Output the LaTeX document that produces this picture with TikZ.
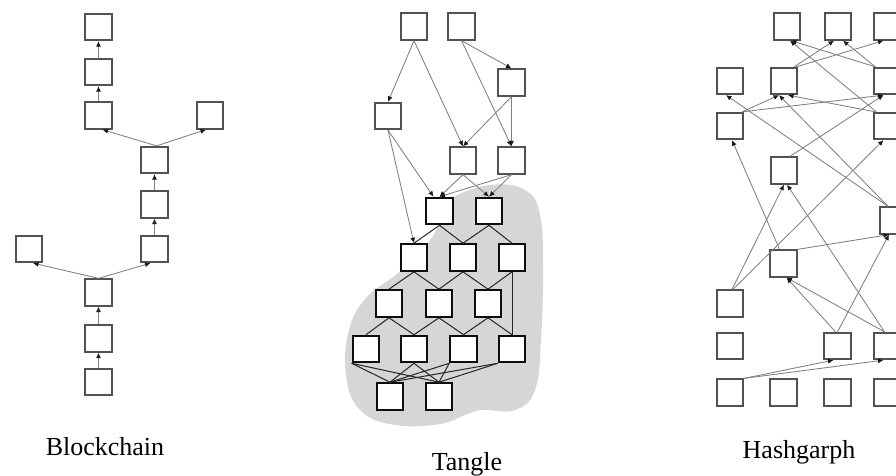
\documentclass[tikz,border=0pt]{standalone}
\usepackage{fontspec}
\setmainfont{Liberation Serif}
\usetikzlibrary{arrows.meta}
\begin{document}
\begin{tikzpicture}[x=1pt,y=-1pt,
  blk/.style={draw=black!68, line width=1.8pt, fill=white, minimum size=26.5pt, inner sep=0pt},
  blkd/.style={blk, draw=black!95, line width=2.1pt},
  lnk/.style={draw=black!50, line width=0.85pt, -{Latex[length=5.5pt,width=5pt,color=black!90]}},
  dlnk/.style={draw=black!85, line width=1pt},
  lbl/.style={anchor=base, font=\fontsize{26}{30}\selectfont, inner sep=0pt}
]
\path[use as bounding box] (0,0) rectangle (896,476);
\fill[white] (0,0) rectangle (896,476);
\clip (0,0) rectangle (896,476);

% ---------------- Blockchain ----------------
\node[blk] (B1) at (98.5,27) {};
\node[blk] (B2) at (98.5,72) {};
\node[blk] (B3) at (98.5,115.5) {};
\node[blk] (B4) at (210,115.5) {};
\node[blk] (B5) at (154.5,160) {};
\node[blk] (B6) at (154.5,204.5) {};
\node[blk] (B7) at (154.5,249) {};
\node[blk] (B8) at (29,249) {};
\node[blk] (B9) at (98.5,292.5) {};
\node[blk] (B10) at (98.5,338.5) {};
\node[blk] (B11) at (98.5,382) {};
\draw[lnk] (B2) -- (B1);
\draw[lnk] (B3) -- (B2);
\draw[lnk] ([xshift=2pt]B5.north) -- ([xshift=4pt]B3.south);
\draw[lnk] ([xshift=2pt]B5.north) -- ([xshift=-4pt]B4.south);
\draw[lnk] (B6) -- (B5);
\draw[lnk] (B7) -- (B6);
\draw[lnk] (B9.north) -- ([xshift=-4pt]B7.south);
\draw[lnk] (B9.north) -- ([xshift=4pt]B8.south);
\draw[lnk] (B10) -- (B9);
\draw[lnk] (B11) -- (B10);
\node[lbl] (LB) at (105,455) {Blockchain};

% ---------------- Tangle ----------------
\fill[black!16] plot[smooth cycle, tension=0.7] coordinates {
  (452,198) (490,185) (525,190) (540,215) (543,270) (541,340) (535,390)
  (515,410) (482,410) (465,415) (440,424) (395,425) (360,410) (346,375)
  (349,330) (366,298) (398,273) (428,243) (445,213)};
\node[blk] (T1) at (414,26.5) {};
\node[blk] (T2) at (461.5,26.5) {};
\node[blk] (T3) at (511.5,82.5) {};
\node[blk] (T4) at (388,116) {};
\node[blk] (T5) at (463,160.5) {};
\node[blk] (T6) at (511.5,160.5) {};
\node[blkd] (T7) at (439.5,211) {};
\node[blkd] (T8) at (489,211) {};
\node[blkd] (T9) at (414,257.5) {};
\node[blkd] (T10) at (463,257.5) {};
\node[blkd] (T11) at (512,257.5) {};
\node[blkd] (T12) at (389,303.5) {};
\node[blkd] (T13) at (439,303.5) {};
\node[blkd] (T14) at (488,303.5) {};
\node[blkd] (T15) at (366,349) {};
\node[blkd] (T16) at (414,349) {};
\node[blkd] (T17) at (463.5,349) {};
\node[blkd] (T18) at (512,349) {};
\node[blkd] (T19) at (390,396.5) {};
\node[blkd] (T20) at (439,396.5) {};
\draw[lnk] (T1.south) -- (T4.north);
\draw[lnk] (T1.south) -- (T5.north);
\draw[lnk] (T2.south) -- (T3.north);
\draw[lnk] (T2.south) -- (T6.north);
\draw[lnk] (T3.south) -- (T5.north);
\draw[lnk] (T3.south) -- (T6.north);
\draw[lnk] (T4.south) -- (T9.north);
\draw[lnk] (T4.south) -- ([xshift=-6pt]T7.north);
\draw[lnk] (T5.south) -- (T7.north);
\draw[lnk] (T5.south) -- (T8.north);
\draw[lnk] (T6.south) -- (T7.north);
\draw[lnk] (T6.south) -- (T8.north);
\draw[dlnk] (T7.south) -- (T9.north);
\draw[dlnk] (T7.south) -- (T10.north);
\draw[dlnk] (T8.south) -- (T10.north);
\draw[dlnk] (T8.south) -- (T11.north);
\draw[dlnk] (T9.south) -- (T12.north);
\draw[dlnk] (T9.south) -- (T13.north);
\draw[dlnk] (T10.south) -- (T13.north);
\draw[dlnk] (T10.south) -- (T14.north);
\draw[dlnk] (T11.south) -- (T14.north);
\draw[dlnk] (T11.south) -- (T18.north);
\draw[dlnk] (T12.south) -- (T15.north);
\draw[dlnk] (T12.south) -- (T16.north);
\draw[dlnk] (T13.south) -- (T16.north);
\draw[dlnk] (T13.south) -- (T17.north);
\draw[dlnk] (T14.south) -- (T17.north);
\draw[dlnk] (T14.south) -- (T18.north);
\draw[dlnk] (T15.south west) -- (T19.north);
\draw[dlnk] (T15.south west) -- (T20.north);
\draw[dlnk] (T16.south) -- (T19.north);
\draw[dlnk] (T16.south) -- (T20.north);
\draw[dlnk] (T17.south west) -- (T19.north);
\draw[dlnk] (T17.south west) -- (T20.north);
\draw[dlnk] (T18.south west) -- (T19.north);
\draw[dlnk] (T18.south west) -- (T20.north);
\node[lbl] (LT) at (467,470) {Tangle};

% ---------------- Hashgraph ----------------
\node[blk] (H1) at (787,26.5) {};
\node[blk] (H2) at (838,26.5) {};
\node[blk] (H3) at (887.5,26.5) {};
\node[blk] (H4) at (730,81) {};
\node[blk] (H5) at (784,81) {};
\node[blk] (H6) at (887.5,81) {};
\node[blk] (H7) at (730,126) {};
\node[blk] (H8) at (887.5,126) {};
\node[blk] (H9) at (784,170.5) {};
\node[blk] (H10) at (893,220.5) {};
\node[blk] (H11) at (783.5,263.5) {};
\node[blk] (H12) at (730,303.5) {};
\node[blk] (H13) at (730,346) {};
\node[blk] (H14) at (837.5,346) {};
\node[blk] (H15) at (887.5,346) {};
\node[blk] (H16) at (730,392.5) {};
\node[blk] (H17) at (783.5,392.5) {};
\node[blk] (H18) at (837.5,392.5) {};
\node[blk] (H19) at (887.5,392.5) {};
\draw[lnk] ([xshift=2pt]H6.north west) -- ([xshift=4pt]H1.south);
\draw[lnk] ([xshift=3pt]H8.north west) -- ([xshift=3pt]H1.south);
\draw[lnk] ([xshift=-4pt]H5.north east) -- ([xshift=-4pt]H2.south);
\draw[lnk] ([xshift=2pt]H6.north west) -- ([xshift=5pt]H2.south);
\draw[lnk] ([xshift=-2pt]H5.north east) -- ([xshift=-4pt]H3.south);
\draw[lnk] ([xshift=-5pt]H10.north) -- ([xshift=-4pt]H4.south);
\draw[lnk] ([xshift=-5pt]H10.north) -- ([xshift=-5pt]H5.south);
\draw[lnk] ([xshift=-2pt]H7.north east) -- ([xshift=-5pt]H5.south);
\draw[lnk] ([xshift=-2pt]H7.north east) -- ([xshift=-4pt]H6.south);
\draw[lnk] ([xshift=2pt]H8.north west) -- ([xshift=4pt]H5.south);
\draw[lnk] ([xshift=6pt]H9.north) -- ([xshift=-4pt]H6.south);
\draw[lnk] ([xshift=-4pt]H11.north) -- ([xshift=2pt]H7.south);
\draw[lnk] ([xshift=3pt]H12.north) -- ([xshift=-4pt]H8.south);
\draw[lnk] ([xshift=2pt]H12.north) -- (H9.south);
\draw[lnk] ([xshift=-3pt]H15.north) -- ([xshift=3pt]H9.south);
\draw[lnk] (H11.north east) -- ([xshift=-4pt]H10.south);
\draw[lnk] (H14.north) -- ([xshift=-4pt]H10.south);
\draw[lnk] ([xshift=-2pt]H14.north) -- ([xshift=3pt]H11.south);
\draw[lnk] ([xshift=-3pt]H15.north) -- ([xshift=3pt]H11.south);
\draw[lnk] (H16.north east) -- ([xshift=-4pt]H14.south);
\draw[lnk] (H16.north east) -- ([xshift=-4pt]H15.south);
\node[lbl] (LH) at (799,458) {Hashgarph};
\end{tikzpicture}
\end{document}
